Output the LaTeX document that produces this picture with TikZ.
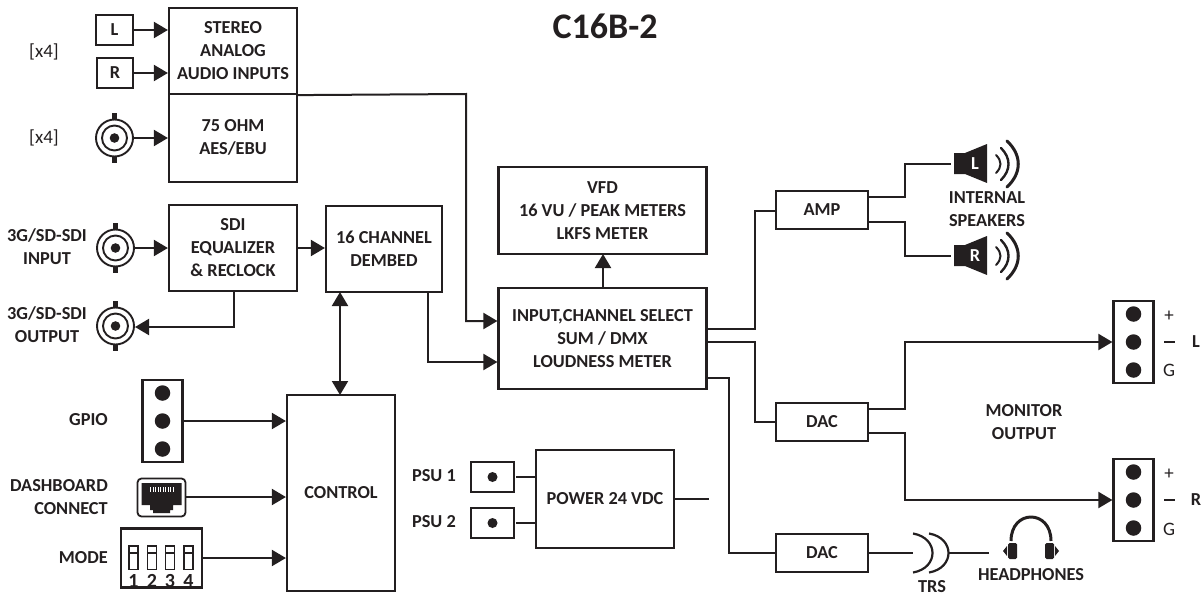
\documentclass[tikz,border=0pt]{standalone}
\usepackage{fontspec}
\setmainfont{Carlito}
\usetikzlibrary{arrows.meta}
\definecolor{ink}{HTML}{231F20}
\tikzset{
  x=1pt,y=-1pt,
  ln/.style={draw=ink,line width=2pt},
  wire/.style={ln,-{Triangle[length=14pt,width=16pt]}},
  wiren/.style={ln},
  bi/.style={ln,{Triangle[length=14pt,width=16pt]}-{Triangle[length=14pt,width=16pt]}},
  lbl/.style={font=\fontsize{18.3}{23}\selectfont\bfseries,text=ink,align=center,inner sep=0pt},
  lblr/.style={lbl,align=right,anchor=east},
  thin lbl/.style={font=\fontsize{19}{20}\selectfont,text=ink,inner sep=0pt},
  boxn/.style={draw=ink,line width=2.2pt,lbl,minimum width=0pt,minimum height=0pt},
  dot/.style={circle,fill=ink,draw=none,minimum size=15.5pt,inner sep=0pt},
  pt/.style={inner sep=0pt,outer sep=0pt,minimum size=0pt},
}
\newcommand{\bnc}[2]{%
  \node[pt] (#1) at (#2) {};
  \draw[ink,line width=1.9pt] (#2) circle (18.5) (#2) circle (12.5);
  \fill[ink] (#2) circle (4.8);
  \fill[ink] ([shift={(-2.5,-25)}]#2) rectangle ([shift={(2.5,-18)}]#2);
  \fill[ink] ([shift={(-2.5,18)}]#2) rectangle ([shift={(2.5,25)}]#2);
}
\newcommand{\spk}[3]{%
  \begin{scope}[shift={(#2)}]
    \fill[ink] (0,-11) -- (11,-11) -- (33,-20) -- (33,19) -- (11,10) -- (0,10) -- cycle;
    \node[pt] (#1) at (-3,0) {};
    \node[lbl,text=white] at (21,0) {#3};
    \draw[ink,line width=2pt,line cap=round] (42,-9) .. controls (48,-3) and (48,3) .. (42,9);
    \draw[ink,line width=2.4pt,line cap=round] (47,-16) .. controls (57,-6) and (57,6) .. (47,16);
    \draw[ink,line width=3pt,line cap=round] (53,-23) .. controls (68,-9) and (68,9) .. (53,23);
  \end{scope}
}
\newcommand{\tri}[2]{%
  \node[boxn,minimum width=40pt,minimum height=82pt] (#1) at (#2) {};
  \node[dot] at ([yshift=-28pt]#2) {};
  \node[dot] at (#2) {};
  \node[dot] at ([yshift=28pt]#2) {};
}
\begin{document}
\begin{tikzpicture}
\useasboundingbox (0,0) rectangle (1201,597);
% title
\node[lbl,font=\fontsize{36}{36}\selectfont\bfseries] (title) at (605,26) {C16B-2};
% boxes
\node[boxn,minimum width=128pt,minimum height=86pt] (stereo) at (233,51) {STEREO\\ANALOG\\AUDIO INPUTS};
\node[boxn,minimum width=128pt,minimum height=88pt] (aes) at (233,138) {\raisebox{3pt}{\begin{tabular}{@{}c@{}}75 OHM\\AES/EBU\end{tabular}}};
\node[boxn,minimum width=128pt,minimum height=86pt] (sdi) at (233,248) {SDI\\EQUALIZER\\\& RECLOCK};
\node[boxn,minimum width=116pt,minimum height=86pt] (dembed) at (384,249) {16 CHANNEL\\DEMBED};
\node[boxn,minimum width=208pt,minimum height=101pt] (sel) at (602.5,338.5) {INPUT,CHANNEL SELECT\\SUM / DMX\\LOUDNESS METER};
\node[boxn,minimum width=208pt,minimum height=87pt] (vfd) at (602.5,210.5) {VFD\\16 VU / PEAK METERS\\LKFS METER};
\node[boxn,minimum width=108pt,minimum height=196pt] (ctrl) at (341,493) {CONTROL};
\node[boxn,minimum width=138pt,minimum height=98pt] (psu) at (605,499) {POWER 24 VDC};
\node[boxn,minimum width=92pt,minimum height=38pt] (amp) at (822,210) {AMP};
\node[boxn,minimum width=92pt,minimum height=38pt] (dac1) at (822,422) {DAC};
\node[boxn,minimum width=92pt,minimum height=38pt] (dac2) at (822,553) {DAC};
\node[boxn,minimum width=37pt,minimum height=30pt] (l) at (114.5,30) {L};
\node[boxn,minimum width=36pt,minimum height=30pt] (r) at (115,73) {R};
\node[boxn,minimum width=43pt,minimum height=30pt] (p1) at (492.5,477) {};
\node[boxn,minimum width=43pt,minimum height=30pt] (p2) at (492.5,523) {};
\fill[ink] (p1.center) circle (5) (p2.center) circle (5);
% connectors
\bnc{b1}{114.5,138}
\bnc{b2}{115.5,248}
\bnc{b3}{115.5,326}
\draw[wire] (l) -- (stereo.west |- l);
\draw[wire] (r) -- (stereo.west |- r);
\draw[wire] (b1.center) ++(18.5,0) -- (aes.west);
\draw[wire] (b2.center) ++(19,0) -- (sdi.west);
\draw[wire] (234,291) -- (234,327) -- (135,327);
\draw[wire] (297,248) -- (dembed.west |- 0,248);
\draw[wire] (stereo.south east) -- (466,94) -- (466,321) -- (sel.west |- 0,321);
\draw[wire] (428,292) -- (428,362) -- (sel.west |- 0,362);
\draw[wire] (603,288) -- (603,254);
\draw[bi] (340,292) -- (340,395);
% gpio etc
\tri{gpio}{162.5,421}
\draw[wire] (gpio.east) -- (ctrl.west |- gpio);
% rj45
\node[pt] (rj) at (161,497.5) {};
\draw[ink,line width=1.8pt,rounded corners=4pt,fill=white] (137.5,478.5) rectangle (185.5,516.5);
\fill[ink] (141.5,483) -- (181.5,483) -- (181.5,505) -- (173,505) -- (173,510) -- (170,510) -- (170,513) -- (153,513) -- (153,510) -- (150,510) -- (150,505) -- (141.5,505) -- cycle;
\foreach \x in {150,152.5,...,174}{\fill[white] (\x,487) rectangle ++(1.2,4.5);}
\draw[wire] (186,497) -- (ctrl.west |- 0,497);
% dip
\node[draw=ink,line width=2.2pt,minimum width=81pt,minimum height=59pt,inner sep=0pt] (dip) at (161.5,558) {};
\foreach \x/\n in {133.5/1,152/2,170/3,188.5/4}{
  \draw[ink,line width=1.8pt] (\x-4.5,546) rectangle (\x+4.5,569.5);
  \draw[ink,line width=1.8pt] (\x-4.5,553) -- (\x+4.5,553);
  \node[lbl,font=\fontsize{20}{20}\selectfont\bfseries] at (\x,581) {\n};
}
\draw[wire] (dip.east) -- (ctrl.west |- dip);
% psu
\draw[wiren] (516,477) -- (psu.west |- 0,477);
\draw[wiren] (516,523) -- (psu.west |- 0,523);
\coordinate (pout) at (709,499);
\draw[wiren] (psu.east) -- (pout);
% outputs
\draw[wiren] (706,329) -- (755,329) -- (755,211) -- (amp.west |- 0,211);
\draw[wiren] (706,342) -- (755,342) -- (755,422) -- (dac1.west);
\draw[wiren] (706,378) -- (729,378) -- (729,553) -- (dac2.west);
% speakers
\spk{sl}{954,164}{L}
\spk{sr}{954,256}{R}
\draw[wiren] (868,197) -- (905,197) -- (905,164) -- (sl);
\draw[wiren] (868,222) -- (905,222) -- (905,256) -- (sr);
% monitor connectors
\tri{cl}{1133.5,342}
\tri{cr}{1133.5,500}
\draw[wire] (868,409) -- (905,409) -- (905,342) -- (cl.west);
\draw[wire] (868,433) -- (905,433) -- (905,500) -- (cr.west);
\foreach \yy/\t in {316/+,370/G,474/+,529/G}{\node[thin lbl] at (1169,\yy) {\t};}
\foreach \yy in {342,500}{\draw[ink,line width=1.9pt] (1164,\yy) -- (1175,\yy);}
\node[lbl] (tl) at (1196,342) {L};
\node[lbl] (tr) at (1196,500) {R};
% TRS + headphones
\coordinate (trsa) at (913,553);
\draw[ink,line width=2.2pt] (913,533.5) .. controls (939,538) and (939,568) .. (913,572.5);
\draw[ink,line width=2.2pt] (929,533.5) .. controls (955,538) and (955,568) .. (929,572.5);
\coordinate (trsb) at (949,553);
\draw[wiren] (dac2.east) -- (trsa);
\coordinate (hp) at (989,553);
\draw[wiren] (trsb) -- (hp);
\draw[ink,line width=3pt] (1011,541) .. controls (1011,509) and (1051,509) .. (1051,541);
\fill[ink,rounded corners=1.5pt] (1008,543) rectangle (1017,559);
\fill[ink,rounded corners=1.5pt] (1045,543) rectangle (1054,559);
\fill[ink] (1007,546) -- (1003,551) -- (1007,556) -- cycle;
\fill[ink] (1055,546) -- (1059,551) -- (1055,556) -- cycle;
% labels
\node[thin lbl] (x1) at (44,52) {[x4]};
\node[thin lbl] (x2) at (44,138) {[x4]};
\node[lbl] (i1) at (47,247) {3G/SD-SDI\\INPUT};
\node[lbl] (i2) at (47,325) {3G/SD-SDI\\OUTPUT};
\node[lblr] (g) at (108,420) {GPIO};
\node[lblr] (d) at (108,497) {DASHBOARD\\CONNECT};
\node[lblr] (m) at (108,558) {MODE};
\node[lblr] (ps1) at (456,476) {PSU 1};
\node[lblr] (ps2) at (456,522) {PSU 2};
\node[lbl] (is) at (987,209) {INTERNAL\\SPEAKERS};
\node[lbl] (mo) at (1024,422) {MONITOR\\OUTPUT};
\node[lbl] (trs) at (932,587) {TRS};
\node[lbl] (hpl) at (1031,575) {HEADPHONES};
\end{tikzpicture}
\end{document}
